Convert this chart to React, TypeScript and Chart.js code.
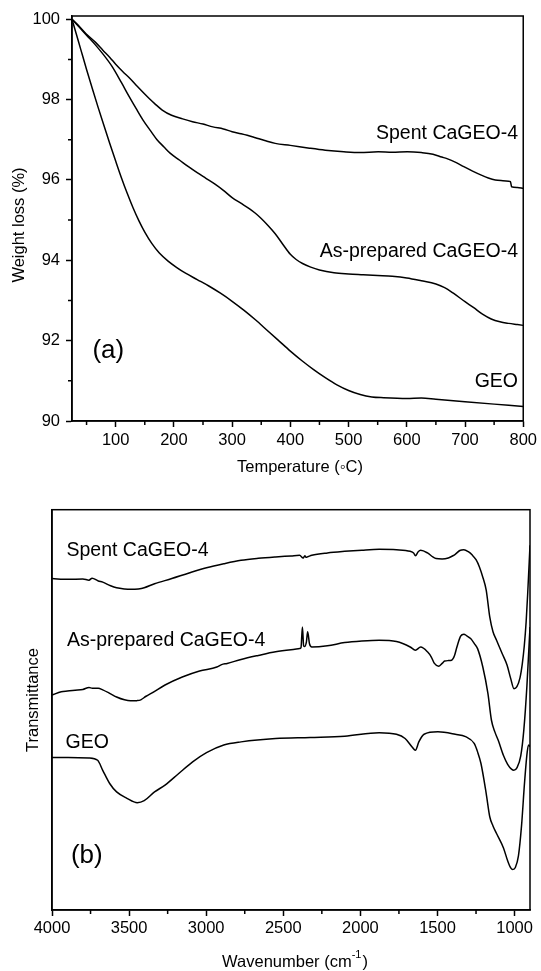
import React, { useEffect, useRef } from "react";
import { Chart, registerables } from "chart.js";

Chart.register(...registerables);

const FONT = '"Liberation Sans", Arial, Helvetica, sans-serif';
const INK = "#000";

// ---------- (a) TGA data ----------
const spentT = [25, 35, 49, 65, 78, 90, 100, 112, 125, 137, 149, 158, 167, 180, 196, 215, 232, 250, 267, 285, 300, 315, 326, 340, 356, 374, 400, 433, 460, 492, 520, 551, 575, 601, 625, 645, 660, 669, 685, 698, 713, 728, 740, 752, 765, 775, 778, 780, 790, 800];
const spentW = [100, 99.86, 99.64, 99.43, 99.23, 99.05, 98.88, 98.7, 98.52, 98.33, 98.15, 98.02, 97.9, 97.74, 97.61, 97.52, 97.45, 97.39, 97.32, 97.27, 97.2, 97.15, 97.11, 97.05, 96.98, 96.91, 96.86, 96.79, 96.74, 96.7, 96.68, 96.7, 96.69, 96.7, 96.68, 96.64, 96.57, 96.53, 96.43, 96.33, 96.22, 96.12, 96.05, 96.0, 95.98, 95.97, 95.96, 95.83, 95.81, 95.79];

const asPrepT = [25, 40, 50, 64, 80, 94, 110, 123, 135, 147, 160, 171, 183, 194, 210, 225, 240, 255, 270, 285, 300, 315, 330, 340, 350, 362, 374, 387, 400, 410, 421, 435, 450, 475, 500, 525, 550, 575, 600, 625, 650, 665, 680, 700, 715, 730, 745, 760, 775, 790, 800];
const asPrepW = [100, 99.76, 99.6, 99.38, 99.1, 98.82, 98.42, 98.08, 97.78, 97.49, 97.22, 97.0, 96.82, 96.66, 96.49, 96.33, 96.18, 96.04, 95.9, 95.74, 95.56, 95.42, 95.28, 95.17, 95.04, 94.86, 94.66, 94.4, 94.15, 94.02, 93.92, 93.83, 93.76, 93.69, 93.66, 93.64, 93.62, 93.6, 93.56, 93.49, 93.41, 93.32, 93.18, 92.97, 92.82, 92.66, 92.54, 92.47, 92.43, 92.4, 92.38];

const geoT = [25, 32, 40, 50, 60, 70, 80, 90, 100, 110, 120, 130, 140, 150, 162, 175, 190, 205, 220, 240, 260, 280, 300, 320, 340, 360, 380, 400, 420, 440, 460, 480, 500, 520, 540, 560, 600, 625, 650, 700, 750, 800];
const geoW = [100, 99.65, 99.25, 98.75, 98.27, 97.8, 97.35, 96.9, 96.47, 96.05, 95.66, 95.3, 94.98, 94.7, 94.42, 94.18, 93.98, 93.82, 93.68, 93.52, 93.36, 93.18, 92.98, 92.76, 92.52, 92.26, 92.0, 91.74, 91.5, 91.28, 91.08, 90.9, 90.76, 90.66, 90.6, 90.58, 90.56, 90.57, 90.54, 90.48, 90.42, 90.36];

const tgaXTicks = [100, 200, 300, 400, 500, 600, 700, 800];
const tgaXMinor = [50, 150, 250, 350, 450, 550, 650, 750];
const tgaYTicks = [90, 92, 94, 96, 98, 100];
const tgaYMinor = [91, 93, 95, 97, 99];

// ---------- (b) FTIR data ----------
const spentWn = [4000, 3895, 3800, 3760, 3740, 3700, 3671, 3620, 3581, 3530, 3491, 3440, 3402, 3335, 3223, 3111, 2998, 2886, 2774, 2662, 2550, 2450, 2394, 2371, 2360, 2353, 2338, 2315, 2214, 2102, 1990, 1878, 1766, 1677, 1655, 1643, 1625, 1609, 1565, 1530, 1509, 1470, 1430, 1400, 1385, 1355, 1329, 1300, 1273, 1250, 1228, 1205, 1184, 1161, 1140, 1117, 1080, 1049, 1025, 1004, 985, 965, 950, 937, 925, 915, 900];
const spentTr = [82.8, 82.6, 82.7, 82.4, 82.9, 82.2, 81.9, 81.0, 80.5, 80.2, 80.1, 80.2, 80.5, 81.5, 82.8, 84.2, 85.5, 86.5, 87.35, 87.85, 88.2, 88.45, 88.6, 87.95, 88.5, 88.1, 88.3, 88.6, 89.2, 89.6, 89.9, 90.1, 90.0, 89.6, 89.2, 88.5, 89.5, 89.85, 89.2, 88.2, 87.8, 87.7, 87.95, 88.5, 88.85, 89.8, 90.0, 89.5, 88.6, 87.5, 85.7, 83.0, 79.9, 73.2, 69.5, 67.4, 64.0, 61.2, 57.8, 55.3, 55.8, 58.0, 61.5, 66.0, 72.0, 79.0, 91.1];

const asPrepWn = [4000, 3940, 3900, 3850, 3800, 3760, 3738, 3700, 3671, 3620, 3581, 3530, 3491, 3450, 3424, 3390, 3357, 3267, 3155, 3043, 2931, 2900, 2864, 2774, 2662, 2550, 2450, 2394, 2385, 2376, 2368, 2362, 2350, 2342, 2330, 2315, 2214, 2102, 1990, 1878, 1766, 1677, 1643, 1609, 1565, 1540, 1520, 1493, 1470, 1453, 1430, 1408, 1390, 1374, 1350, 1329, 1310, 1285, 1260, 1240, 1206, 1173, 1150, 1128, 1106, 1072, 1045, 1020, 1005, 985, 960, 940, 920, 900];
const asPrepTr = [53.7, 54.5, 54.7, 54.9, 55.1, 55.6, 55.4, 55.4, 55.0, 54.0, 53.2, 52.5, 52.25, 52.3, 52.5, 53.4, 54.1, 56.2, 58.2, 59.7, 60.7, 61.3, 61.6, 62.6, 63.6, 64.5, 65.0, 65.3, 65.6, 70.7, 66.0, 65.8, 67.0, 69.5, 66.5, 65.7, 66.0, 66.8, 67.2, 67.4, 67.05, 65.7, 64.9, 65.7, 64.5, 63.2, 61.6, 60.9, 61.6, 62.2, 62.3, 62.4, 63.5, 65.7, 68.4, 68.9, 68.5, 67.8, 66.5, 65.3, 60.7, 54.1, 47.4, 44.5, 42.4, 38.6, 36.4, 35.2, 34.9, 35.5, 38.5, 45.0, 56.0, 70.7];

const geoWn = [4000, 3895, 3760, 3704, 3671, 3626, 3581, 3514, 3447, 3402, 3335, 3267, 3178, 3088, 2998, 2886, 2774, 2550, 2326, 2102, 1878, 1766, 1710, 1666, 1643, 1621, 1587, 1497, 1385, 1318, 1262, 1240, 1218, 1184, 1161, 1140, 1117, 1072, 1045, 1025, 1012, 995, 975, 955, 935, 918, 908, 900];
const geoTr = [38.1, 38.1, 38.0, 37.4, 34.9, 31.6, 29.5, 27.9, 26.8, 27.3, 29.5, 31.2, 34.1, 37.0, 39.3, 41.2, 42.0, 42.85, 43.1, 43.4, 44.3, 43.9, 42.85, 40.8, 39.9, 42.0, 43.9, 44.5, 43.9, 43.3, 41.6, 39.5, 36.6, 29.1, 23.3, 21.0, 19.1, 15.5, 12.3, 10.5, 10.1, 10.6, 13.5, 21.0, 32.0, 39.5, 41.2, 40.8];

const ftirXTicks = [4000, 3500, 3000, 2500, 2000, 1500, 1000];
const ftirXMinor = [3750, 3250, 2750, 2250, 1750, 1250];

const seriesNames = ["Spent CaGEO-4", "As-prepared CaGEO-4", "GEO"];

// ---------- helpers ----------
const pts = (xs: number[], ys: number[]) => xs.map((x, i) => ({ x, y: ys[i] }));

const lineDs = (label: string, data: { x: number; y: number }[]) => ({
  label,
  data,
  borderColor: INK,
  borderWidth: 1.5,
  pointRadius: 0,
  fill: false,
  cubicInterpolationMode: "monotone" as const,
});

type Label = { text: string; x: number; y: number; align: CanvasTextAlign; size: number };

function decorPlugin(opts: {
  xMinor: number[];
  yMinor: number[];
  labels: Label[];
  yTitle: { text: string; x: number; y: number };
  xTitle: { x: number; y: number; draw: (ctx: CanvasRenderingContext2D, x: number, y: number) => void };
}) {
  return {
    id: "decor",
    afterDraw(chart: any) {
      const { ctx, chartArea: a, scales } = chart;
      ctx.save();
      ctx.strokeStyle = INK;
      ctx.lineWidth = 1.5;
      ctx.strokeRect(a.left, a.top, a.right - a.left, a.bottom - a.top);
      ctx.beginPath();
      opts.xMinor.forEach((v) => {
        const px = scales.x.getPixelForValue(v);
        ctx.moveTo(px, a.bottom);
        ctx.lineTo(px, a.bottom + 4);
      });
      opts.yMinor.forEach((v) => {
        const py = scales.y.getPixelForValue(v);
        ctx.moveTo(a.left, py);
        ctx.lineTo(a.left - 4, py);
      });
      ctx.stroke();
      ctx.fillStyle = INK;
      ctx.textBaseline = "middle";
      opts.labels.forEach((l) => {
        ctx.font = `${l.size}px ${FONT}`;
        ctx.textAlign = l.align;
        ctx.fillText(l.text, scales.x.getPixelForValue(l.x), scales.y.getPixelForValue(l.y));
      });
      ctx.save();
      ctx.font = `16.5px ${FONT}`;
      ctx.textAlign = "center";
      ctx.translate(opts.yTitle.x, opts.yTitle.y);
      ctx.rotate(-Math.PI / 2);
      ctx.fillText(opts.yTitle.text, 0, 0);
      ctx.restore();
      opts.xTitle.draw(ctx, opts.xTitle.x, opts.xTitle.y);
      ctx.restore();
    },
  };
}

const axisCommon = (ticksList: number[]) => ({
  afterBuildTicks: (s: any) => {
    s.ticks = ticksList.map((v) => ({ value: v }));
  },
  grid: {
    display: true,
    drawOnChartArea: false,
    drawTicks: true,
    tickLength: 6,
    tickWidth: 1.5,
    tickColor: INK,
    color: INK,
  },
  border: { display: true, color: INK, width: 1.5 },
});

const plainLabel = (v: number | string) => String(v);

function useChart(ref: React.RefObject<HTMLCanvasElement | null>, makeConfig: () => any) {
  useEffect(() => {
    if (!ref.current) return;
    const chart = new Chart(ref.current, makeConfig());
    return () => chart.destroy();
  }, []);
}

function TgaChart() {
  const ref = useRef<HTMLCanvasElement>(null);
  useChart(ref, () => ({
    type: "line",
    data: {
      datasets: [
        lineDs(seriesNames[0], pts(spentT, spentW)),
        lineDs(seriesNames[1], pts(asPrepT, asPrepW)),
        lineDs(seriesNames[2], pts(geoT, geoW)),
      ],
    },
    options: {
      responsive: false,
      animation: false,
      devicePixelRatio: 1,
      layout: { padding: { left: 0, right: 17, top: 16, bottom: 0 } },
      plugins: { legend: { display: false }, tooltip: { enabled: false } },
      scales: {
        x: {
          type: "linear",
          min: 25,
          max: 800,
          ...axisCommon(tgaXTicks),
          afterFit: (s: any) => {
            s.height = 59;
          },
          ticks: { color: INK, font: { family: FONT, size: 16.5 }, padding: 4, maxRotation: 0, autoSkip: false, callback: plainLabel },
        },
        y: {
          type: "linear",
          min: 90,
          max: 100.08,
          ...axisCommon(tgaYTicks),
          afterFit: (s: any) => {
            s.width = 72;
          },
          ticks: { color: INK, font: { family: FONT, size: 16.5 }, padding: 6, autoSkip: false, callback: plainLabel },
        },
      },
    },
    plugins: [
      decorPlugin({
        xMinor: tgaXMinor,
        yMinor: tgaYMinor,
        labels: [
          { text: seriesNames[0], x: 791, y: 97.16, align: "right", size: 19.5 },
          { text: seriesNames[1], x: 791, y: 94.21, align: "right", size: 19.5 },
          { text: seriesNames[2], x: 791, y: 90.99, align: "right", size: 19.5 },
          { text: "(a)", x: 60, y: 91.74, align: "left", size: 26 },
        ],
        yTitle: { text: "Weight loss (%)", x: 19, y: 225 },
        xTitle: {
          x: 300,
          y: 467,
          draw: (ctx, x, y) => {
            ctx.font = `16.5px ${FONT}`;
            ctx.textAlign = "center";
            ctx.textBaseline = "middle";
            ctx.fillText("Temperature (\u25E6C)", x, y);
          },
        },
      }),
    ],
  }));
  return <canvas ref={ref} width={541} height={480} style={{ display: "block", width: 541, height: 480 }} />;
}

function FtirChart() {
  const ref = useRef<HTMLCanvasElement>(null);
  useChart(ref, () => ({
    type: "line",
    data: {
      datasets: [
        lineDs(seriesNames[0], pts(spentWn, spentTr)),
        lineDs(seriesNames[1], pts(asPrepWn, asPrepTr)),
        lineDs(seriesNames[2], pts(geoWn, geoTr)),
      ],
    },
    options: {
      responsive: false,
      animation: false,
      devicePixelRatio: 1,
      layout: { padding: { left: 0, right: 11, top: 29.7, bottom: 0 } },
      plugins: { legend: { display: false }, tooltip: { enabled: false } },
      scales: {
        x: {
          type: "linear",
          min: 900,
          max: 4000,
          reverse: true,
          ...axisCommon(ftirXTicks),
          afterFit: (s: any) => {
            s.height = 61;
          },
          ticks: { color: INK, font: { family: FONT, size: 16.5 }, padding: 3, maxRotation: 0, autoSkip: false, callback: plainLabel },
        },
        y: {
          type: "linear",
          min: 0,
          max: 100,
          grid: { display: false },
          border: { display: true, color: INK, width: 1.5 },
          ticks: { display: false },
          afterFit: (s: any) => {
            s.width = 52;
          },
        },
      },
    },
    plugins: [
      decorPlugin({
        xMinor: ftirXMinor,
        yMinor: [],
        labels: [
          { text: seriesNames[0], x: 3906, y: 89.7, align: "left", size: 19.5 },
          { text: seriesNames[1], x: 3903, y: 67.2, align: "left", size: 19.5 },
          { text: seriesNames[2], x: 3912, y: 41.7, align: "left", size: 19.5 },
          { text: "(b)", x: 3877, y: 13.5, align: "left", size: 26 },
        ],
        yTitle: { text: "Transmittance", x: 33, y: 220 },
        xTitle: {
          x: 295,
          y: 482,
          draw: (ctx, x, y) => {
            const main = `16.5px ${FONT}`;
            const sup = `11px ${FONT}`;
            ctx.textAlign = "left";
            ctx.textBaseline = "middle";
            ctx.font = main;
            const p1 = "Wavenumber (cm";
            const p3 = ")";
            const w1 = ctx.measureText(p1).width;
            const w3 = ctx.measureText(p3).width;
            ctx.font = sup;
            const p2 = "-1";
            const w2 = ctx.measureText(p2).width;
            let sx = x - (w1 + w2 + w3 + 1) / 2;
            ctx.font = main;
            ctx.fillText(p1, sx, y);
            sx += w1;
            ctx.font = sup;
            ctx.fillText(p2, sx, y - 7);
            sx += w2 + 1;
            ctx.font = main;
            ctx.fillText(p3, sx, y);
          },
        },
      }),
    ],
  }));
  return <canvas ref={ref} width={541} height={491} style={{ display: "block", width: 541, height: 491 }} />;
}

export default function App() {
  return (
    <div style={{ position: "absolute", left: 0, top: 0, width: 541, height: 971, background: "#fff" }}>
      <TgaChart />
      <FtirChart />
    </div>
  );
}
